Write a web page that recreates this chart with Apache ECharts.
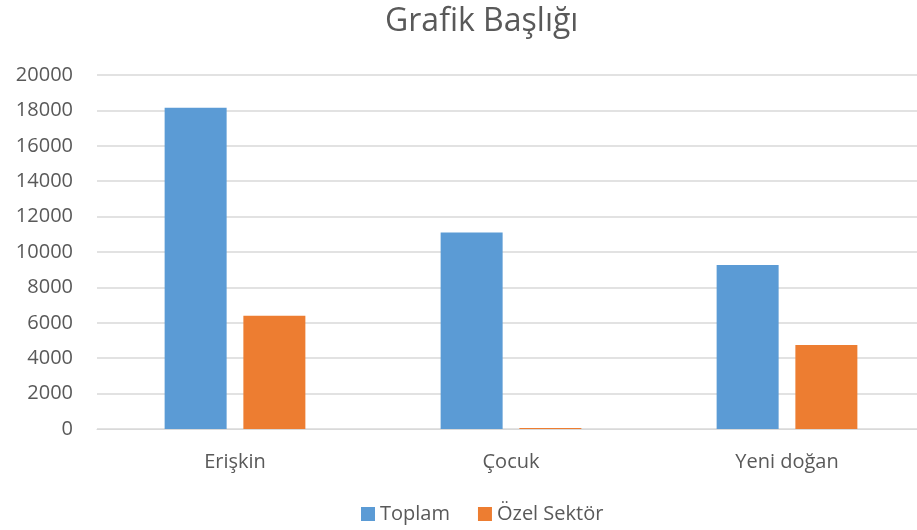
<!DOCTYPE html>
<html>
<head>
<meta charset="utf-8">
<script src="https://cdn.jsdelivr.net/npm/echarts@6/dist/echarts.min.js"></script>
<style>
  html, body { margin: 0; padding: 0; background: #fff; }
  #main { width: 917px; height: 530px; }
</style>
</head>
<body>
<div id="main"></div>
<script>
// kategoriler ve degerler
var categories = ['Erişkin', 'Çocuk', 'Yeni doğan'];
var toplam = [18150, 11100, 9270];
var ozelSektor = [6400, 60, 4750];
var seriesNames = ['Toplam', 'Özel Sektör'];

var myChart = echarts.init(document.getElementById('main'));
var textColor = '#595959';
var option = {
  animation: false,
  textStyle: { fontFamily: 'Open Sans' },
  title: {
    text: 'Grafik Başlığı',
    left: 380,
    top: 1,
    textStyle: { color: textColor, fontSize: 32, fontWeight: 'normal', fontFamily: 'Open Sans' }
  },
  legend: {
    data: seriesNames,
    bottom: 1,
    left: 356,
    itemWidth: 14,
    itemHeight: 14,
    itemGap: 28,
    icon: 'rect',
    textStyle: { color: textColor, fontSize: 20, fontFamily: 'Open Sans' }
  },
  grid: { left: 97, right: -8, top: 75, bottom: 101, outerBoundsMode: 'none', containLabel: false },
  xAxis: {
    type: 'category',
    data: categories,
    axisTick: { show: false },
    axisLine: { lineStyle: { color: '#d9d9d9' } },
    axisLabel: { color: textColor, fontSize: 20, margin: 23, fontFamily: 'Open Sans' }
  },
  yAxis: {
    type: 'value',
    min: 0,
    max: 20000,
    interval: 2000,
    axisLine: { show: false },
    axisTick: { show: false },
    splitLine: { lineStyle: { color: '#d9d9d9', width: 1.5 } },
    axisLabel: {
      color: textColor, fontSize: 20, margin: 24, fontFamily: 'Open Sans',
      formatter: function (v) { return String(v); }
    }
  },
  series: [
    {
      name: seriesNames[0],
      type: 'bar',
      data: toplam,
      barWidth: 62,
      barGap: '27%',
      itemStyle: { color: '#5b9bd5' }
    },
    {
      name: seriesNames[1],
      type: 'bar',
      data: ozelSektor,
      barWidth: 62,
      itemStyle: { color: '#ed7d31' }
    }
  ]
};
myChart.setOption(option);
</script>
</body>
</html>
